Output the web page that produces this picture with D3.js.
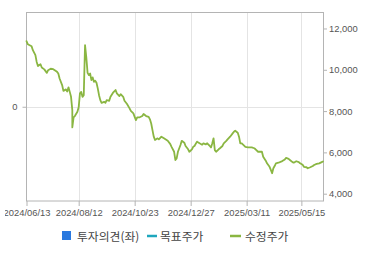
<!DOCTYPE html>
<html>
<head>
<meta charset="utf-8">
<script src="https://cdn.jsdelivr.net/npm/d3@7"></script>
<style>
html,body{margin:0;padding:0;background:#fff;}
svg{display:block;}
</style>
</head>
<body>
<svg id="chart" width="370" height="255"></svg>
<script>
// trading-day index of each sampled point
const dayIndex = [0,1,4,5,7,8,9,11,12,14,16,17,19,21,24,25,26,28,29,31,32,33,34,35,36,36,37,38,40,41,42,43,44,45,46,47,48,49,50,51,52,53,54,55,56,57,58,59,61,62,63,65,66,68,70,71,73,74,76,77,79,81,82,84,85,86,87,89,91,92,94,96,97,98,99,100,101,103,104,106,108,111,113,114,116,117,118,119,121,122,124,125,127,128,130,131,132,134,136,138,139,141,142,144,145,146,147,148,149,151,152,154,155,157,158,160,162,163,164,166,167,168,169,170,172,174,175,177,179,180,182,183,185,186,188,189,191,192,193,194,195,196,198,201,203,204,206,207,209,210,212,214,215,217,218,220,221,223,225,226,228,230,232,233];
// adjusted price (수정주가)
const adjPrice = [11390,11240,11140,10950,10710,10380,10180,10270,10110,10020,9850,9980,10050,10030,9900,9820,9580,9260,8980,9050,8950,9150,8930,8690,8050,7210,7700,7760,7970,8180,8860,8930,8690,8770,11190,10600,9850,9740,9820,9500,9630,9420,9470,9370,9100,8770,8530,8400,8450,8400,8530,8500,8690,8890,9020,8860,8730,8820,8690,8500,8340,8130,8010,7890,7720,7560,7700,7700,7760,7860,7760,7720,7600,7400,7080,6760,6600,6680,6630,6760,6680,6560,6400,6270,6030,5630,5710,6030,6360,6560,6470,6310,6150,6030,6150,6270,6310,6520,6440,6370,6440,6390,6440,6310,6240,6440,6680,6110,6030,6150,6200,6310,6440,6560,6630,6760,6920,7000,7050,6950,6760,6440,6440,6390,6270,6240,6240,6240,6200,6150,6030,6030,6030,5790,5600,5470,5300,5150,4990,5230,5340,5470,5500,5580,5660,5730,5690,5630,5530,5500,5570,5530,5470,5400,5300,5280,5230,5280,5340,5390,5440,5470,5530,5560];

const tickIndex = [0,41,85,129,173,216];
const tickLabels = ["2024/06/13","2024/08/12","2024/10/23","2024/12/27","2025/03/11","2025/05/15"];
const rightTicks = [4000,6000,8000,10000,12000];
const leftTicks = [0];
const legendLabels = ["투자의견(좌)","목표주가","수정주가"];

const svg = d3.select("#chart");
const L = 26.5, R = 323, T = 12.5, B = 201;
const lineColor = "#8ab642";

const x = d3.scaleLinear().domain([0,233]).range([L, R]);
const yR = d3.scaleLinear().domain([3646,12774]).range([B, T]);
const yL = d3.scaleLinear().domain([-1,1]).range([B, T]);

// grid
const grid = svg.append("g");
grid.selectAll("line.v").data(tickIndex.slice(1)).join("line")
  .attr("x1", d => Math.round(x(d)) + 0.5).attr("x2", d => Math.round(x(d)) + 0.5)
  .attr("y1", T).attr("y2", B)
  .attr("stroke", "#e4e4e4").attr("stroke-width", 1);
grid.selectAll("line.h").data(leftTicks).join("line")
  .attr("x1", L).attr("x2", R)
  .attr("y1", d => Math.round(yL(d)) + 0.5).attr("y2", d => Math.round(yL(d)) + 0.5)
  .attr("stroke", "#e4e4e4").attr("stroke-width", 1);

// frame
svg.append("rect").attr("x", L).attr("y", T).attr("width", R - L + 0.5).attr("height", B - T)
  .attr("fill", "none").attr("stroke", "#b4b4b4").attr("stroke-width", 1);

const fontAxis = "'Liberation Sans', Arial, sans-serif";

// bottom axis (labels clipped at the left edge like the original)
svg.append("defs").append("clipPath").attr("id", "clipx")
  .append("rect").attr("x", 5).attr("y", -2).attr("width", 365).attr("height", 30);
const xAxis = d3.axisBottom(x).tickValues(tickIndex).tickSize(5).tickPadding(3)
  .tickFormat((d, i) => tickLabels[i]);
const gx = svg.append("g").attr("transform", `translate(0,${B})`).attr("clip-path", "url(#clipx)").call(xAxis);
gx.select(".domain").remove();
gx.selectAll(".tick line").attr("stroke", "#b4b4b4");
gx.selectAll(".tick text").attr("font-family", fontAxis).attr("font-size", "9.4px").attr("fill", "#555");

// right axis
const yAxisR = d3.axisRight(yR).tickValues(rightTicks).tickSize(4).tickPadding(2)
  .tickFormat(d3.format(","));
const gr = svg.append("g").attr("transform", `translate(${R},0)`).call(yAxisR);
gr.select(".domain").remove();
gr.selectAll(".tick line").attr("stroke", "#b4b4b4");
gr.selectAll(".tick text").attr("font-family", fontAxis).attr("font-size", "9.4px").attr("fill", "#555");

// left axis
const yAxisL = d3.axisLeft(yL).tickValues(leftTicks).tickSize(4).tickPadding(5).tickFormat(d3.format("d"));
const gl = svg.append("g").attr("transform", `translate(${L},0)`).call(yAxisL);
gl.select(".domain").remove();
gl.selectAll(".tick line").attr("stroke", "#b4b4b4");
gl.selectAll(".tick text").attr("font-family", fontAxis).attr("font-size", "9.4px").attr("fill", "#555");

// price line
const data = dayIndex.map((d, i) => [d, adjPrice[i]]);
svg.append("path").datum(data)
  .attr("fill", "none").attr("stroke", lineColor).attr("stroke-width", 1.8)
  .attr("stroke-linejoin", "round").attr("stroke-linecap", "round")
  .attr("d", d3.line().x(d => x(d[0])).y(d => yR(d[1])));

// legend
const fontLeg = "'Noto Sans CJK KR', sans-serif";
const lg = svg.append("g");
lg.append("rect").attr("x", 62).attr("y", 231).attr("width", 9).attr("height", 9).attr("fill", "#2a79df");
lg.append("line").attr("x1", 147).attr("x2", 157).attr("y1", 236).attr("y2", 236)
  .attr("stroke", "#1ea7bd").attr("stroke-width", 2.5);
lg.append("line").attr("x1", 230).attr("x2", 241).attr("y1", 236).attr("y2", 236)
  .attr("stroke", lineColor).attr("stroke-width", 2.5);
lg.selectAll("text").data(legendLabels).join("text")
  .attr("x", (d, i) => [77, 160, 245][i]).attr("y", 240.5)
  .attr("font-family", fontLeg).attr("font-size", "11.8px").attr("fill", "#444")
  .text(d => d);
</script>
</body>
</html>
